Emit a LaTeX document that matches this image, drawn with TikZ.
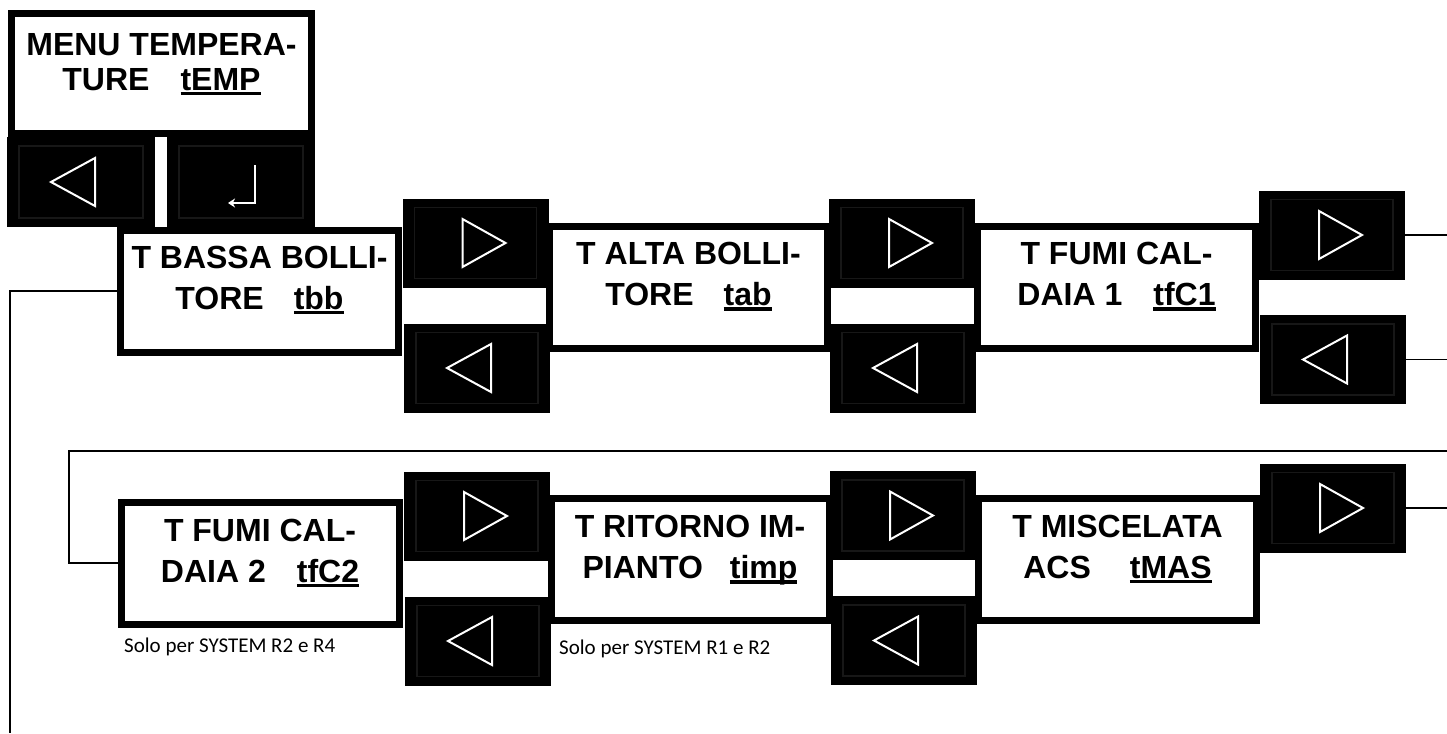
\documentclass[tikz,border=0pt]{standalone}
\usepackage{fontspec}
\setmainfont{Liberation Sans}
\newfontfamily\notefont{Carlito}
\usepackage{tikz}
\usetikzlibrary{positioning,arrows.meta}

\newsavebox{\ulbox}
\newcommand{\codeul}[1]{\sbox\ulbox{#1}\rlap{\rule[-5pt]{\wd\ulbox}{3.5pt}}\usebox\ulbox}
\newcommand{\btnframe}{\draw[black!91!white, line width=1.2pt] ([shift={(12pt,-9pt)}]path picture bounding box.north west) rectangle ([shift={(-12pt,9pt)}]path picture bounding box.south east);}

\tikzset{
  panel/.style={draw, line width=7pt, fill=white, minimum width=278pt, minimum height=122pt, inner sep=0pt},
  paneltxt/.style={font=\bfseries\fontsize{32}{41}\selectfont, align=center, inner sep=0pt},
  menutxt/.style={paneltxt, font=\bfseries\fontsize{32}{35}\selectfont},
  notetxt/.style={font=\notefont\fontsize{21}{25}\selectfont, inner sep=0pt, anchor=base west},
  btn/.style={fill=black, minimum width=146pt, minimum height=89pt, inner sep=0pt},
  btnnext/.style={btn, path picture={\btnframe
    \draw[white, line width=2pt] ([shift={(-13pt,24pt)}]path picture bounding box.center) -- ++(0pt,-48pt) -- ++(43pt,24pt) -- cycle;}},
  btnprev/.style={btn, path picture={\btnframe
    \draw[white, line width=2pt] ([shift={(14pt,24pt)}]path picture bounding box.center) -- ++(0pt,-48pt) -- ++(-44pt,24pt) -- cycle;}},
  btnenter/.style={btn, path picture={\btnframe
    \draw[white, line width=2pt, -{Stealth[length=7pt,width=9pt]}] ([shift={(14pt,17pt)}]path picture bounding box.center) -- ++(0pt,-38pt) -- ++(-27pt,0pt);}},
  wire/.style={line width=1.6pt}
}

\begin{document}
\begin{tikzpicture}[x=1pt, y=-1pt]
      \useasboundingbox (0,0) rectangle (1447,733);
      \node (menu) [panel, minimum width=300pt, minimum height=120pt] at (161.5,73.5) {};
      \node (menu-t) [menutxt, below=23pt of menu.north] {MENU TEMPERA-\\TURE\hspace{31pt}\codeul{tEMP}};
      \node (back) [btnprev, minimum width=148pt, minimum height=90pt] at (81,182) {};
      \node (enter) [btnenter, minimum width=148pt, minimum height=90pt] at (241,182) {};

      \node (tbb) [panel] at (259.5,291) {};
      \node (tab) [panel] at (688.5,287.5) {};
      \node (tfC1) [panel] at (1116.5,287.5) {};
      \node (tfC2) [panel] at (260,563) {};
      \node (timp) [panel] at (690,559.5) {};
      \node (tMAS) [panel] at (1117.5,559) {};

      \node (tbb-t) [paneltxt, below=19pt of tbb.north] {T BASSA BOLLI-\\TORE\hspace{30pt}\codeul{tbb}};
      \node (tab-t) [paneltxt, below=19pt of tab.north] {T ALTA BOLLI-\\TORE\hspace{30pt}\codeul{tab}};
      \node (tfC1-t) [paneltxt, below=19pt of tfC1.north] {T FUMI CAL-\\DAIA 1\hspace{31pt}\codeul{tfC1}};
      \node (tfC2-t) [paneltxt, below=20pt of tfC2.north] {T FUMI CAL-\\DAIA 2\hspace{31pt}\codeul{tfC2}};
      \node (timp-t) [paneltxt, below=20pt of timp.north] {T RITORNO IM-\\PIANTO\hspace{27pt}\codeul{timp}};
      \node (tMAS-t) [paneltxt, below=20pt of tMAS.north] {T MISCELATA\\ACS\hspace{39pt}\codeul{tMAS}};

      \node (next1) [btnnext] at (475.5,243) {};
      \node (prev1) [btnprev] at (477,368) {};
      \node (next2) [btnnext] at (902,243) {};
      \node (prev2) [btnprev] at (903,368) {};
      \node (next3) [btnnext] at (1332,235) {};
      \node (prev3) [btnprev] at (1333,359.5) {};
      \node (next4) [btnnext] at (477,516) {};
      \node (prev4) [btnprev] at (478,641) {};
      \node (next5) [btnnext] at (903,515.5) {};
      \node (prev5) [btnprev] at (904,640.5) {};
      \node (next6) [btnnext] at (1333,508) {};

      \node (cond1) [notetxt] at (124,652) {Solo per SYSTEM R2 e R4};
      \node (cond2) [notetxt] at (559,654) {Solo per SYSTEM R1 e R2};

      \coordinate (out1) at (1447,235);
      \coordinate (out2) at (1447,359.5);
      \coordinate (out3) at (1447,508);
      \coordinate (wrapin) at (1447,451);
      \coordinate (wrapcorner) at (69,451);
      \coordinate (bottomend) at (10,733);

      \draw[wire] (next3.east) -- (out1);
      \draw[wire] (prev3.east) -- (out2);
      \draw[wire] (next6.east) -- (out3);
      \draw[wire] (wrapin) -- (wrapcorner) |- (tfC2.west);
      \draw[wire] (tbb.west) -| (bottomend);
    \end{tikzpicture}
\end{document}
